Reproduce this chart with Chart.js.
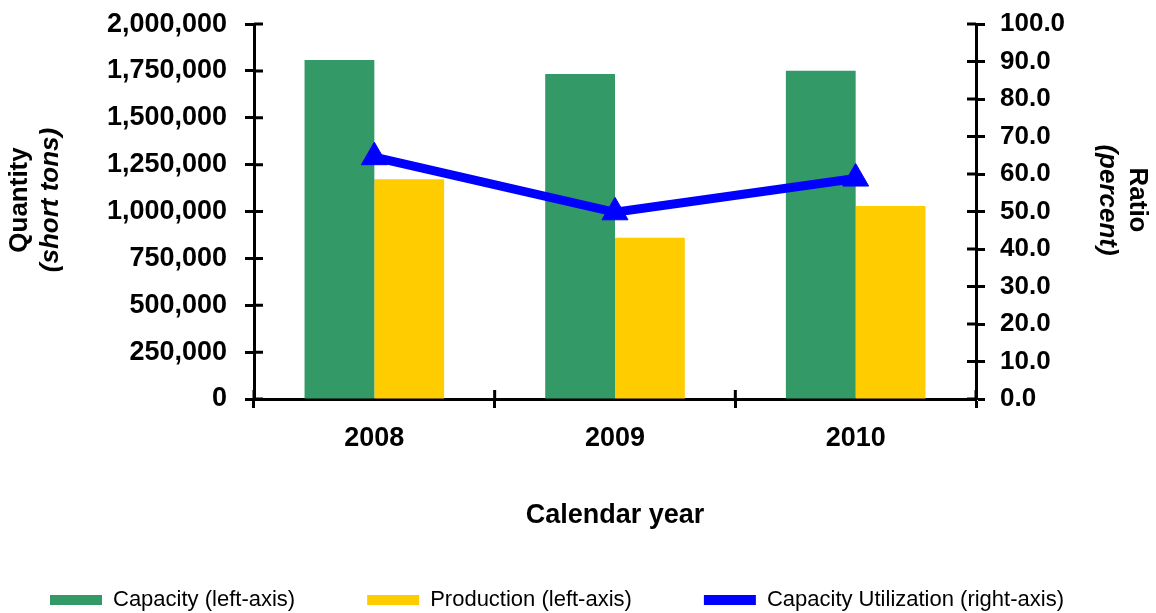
<!DOCTYPE html>
<html>
<head>
<meta charset="utf-8">
<script src="https://cdn.jsdelivr.net/npm/chart.js@4"></script>
<style>
  html, body { margin: 0; padding: 0; background: #fff; }
  #wrap { width: 1156px; height: 613px; }
</style>
</head>
<body>
<div id="wrap"><canvas id="grafico"></canvas></div>
<script>
const anos = ['2008', '2009', '2010'];
const capacidade = [1808000, 1734000, 1751000];
const producao = [1172000, 860000, 1030000];
const utilizacao = [64.5, 49.8, 58.8];
const ticksEsq = [0, 250000, 500000, 750000, 1000000, 1250000, 1500000, 1750000, 2000000];
const ticksDir = [0, 10, 20, 30, 40, 50, 60, 70, 80, 90, 100];

const fonte = 'Liberation Sans, Arial, sans-serif';

// axis titles with mixed bold / italic, plus tick marks crossing the axes
const extras = {
  id: 'extras',
  afterDraw(chart) {
    const c = chart.ctx;
    const a = chart.chartArea;
    const yl = chart.scales.y, yr = chart.scales.y1;
    c.save();
    c.strokeStyle = '#000';
    c.lineWidth = 3;
    c.beginPath();
    yl.ticks.forEach((t, i) => {
      const py = yl.getPixelForTick(i);
      c.moveTo(a.left, py); c.lineTo(a.left + 9, py);
    });
    yr.ticks.forEach((t, i) => {
      const py = yr.getPixelForTick(i);
      c.moveTo(a.right - 9, py); c.lineTo(a.right, py);
    });
    const w = (a.right - a.left) / anos.length;
    for (let i = 0; i <= anos.length; i++) {
      const px = a.left + i * w;
      c.moveTo(px, a.bottom - 9); c.lineTo(px, a.bottom);
    }
    c.stroke();

    c.fillStyle = '#000';
    c.textAlign = 'center';
    c.textBaseline = 'middle';
    c.save();
    c.translate(20, 200);
    c.rotate(-Math.PI / 2);
    c.font = 'bold 26px ' + fonte;
    c.fillText('Quantity', 0, 0);
    c.font = 'italic bold 26px ' + fonte;
    c.fillText('(short tons)', 0, 31);
    c.restore();
    c.save();
    c.translate(1137, 200);
    c.rotate(Math.PI / 2);
    c.font = 'bold 26px ' + fonte;
    c.fillText('Ratio', 0, 0);
    c.font = 'italic bold 26px ' + fonte;
    c.fillText('(percent)', 0, 30);
    c.restore();
    c.restore();
  }
};

new Chart(document.getElementById('grafico'), {
  type: 'bar',
  data: {
    labels: anos,
    datasets: [{
      label: 'Capacity (left-axis)',
      data: capacidade,
      backgroundColor: '#339966',
      yAxisID: 'y',
      order: 1
    }, {
      label: 'Production (left-axis)',
      data: producao,
      backgroundColor: '#FFCC00',
      yAxisID: 'y',
      order: 1
    }, {
      type: 'line',
      label: 'Capacity Utilization (right-axis)',
      data: utilizacao,
      borderColor: '#0000FF',
      backgroundColor: '#0000FF',
      borderWidth: 9,
      pointStyle: 'triangle',
      pointRadius: 15,
      pointBackgroundColor: '#0000FF',
      pointBorderColor: '#0000FF',
      pointBorderWidth: 1,
      yAxisID: 'y1',
      order: 0
    }]
  },
  options: {
    responsive: true,
    maintainAspectRatio: false,
    animation: false,
    layout: { padding: { top: 23, left: -22, right: 0, bottom: -8 } },
    datasets: { bar: { categoryPercentage: 0.58, barPercentage: 1.0 } },
    plugins: {
      tooltip: { enabled: false },
      legend: {
        position: 'bottom',
        align: 'start',
        labels: {
          sort: (a, b) => a.datasetIndex - b.datasetIndex,
          generateLabels: chart => Chart.defaults.plugins.legend.labels.generateLabels(chart).map(l => {
            l.lineWidth = 0;
            return l;
          }),
          boxWidth: 52,
          boxHeight: 10,
          padding: 72,
          color: '#000',
          font: { family: fonte, size: 22 }
        }
      }
    },
    scales: {
      x: {
        offset: true,
        border: { color: '#000', width: 3 },
        grid: { display: true, drawOnChartArea: false, drawTicks: true, tickLength: 9, tickWidth: 3, tickColor: '#000', offset: true },
        ticks: { color: '#000', padding: 14, autoSkip: false, font: { family: fonte, size: 27, weight: 'bold' } },
        title: { display: true, text: 'Calendar year', color: '#000', padding: { top: 30, bottom: -15 }, font: { family: fonte, size: 27, weight: 'bold' } },
        afterFit: s => { s.height = 118; }
      },
      y: {
        position: 'left',
        min: 0,
        max: 2000000,
        afterBuildTicks: s => { s.ticks = ticksEsq.map(v => ({ value: v })); },
        border: { color: '#000', width: 3 },
        grid: { drawOnChartArea: false, tickLength: 9, tickWidth: 3, tickColor: '#000' },
        ticks: { color: '#000', padding: 18, autoSkip: false, font: { family: fonte, size: 27, weight: 'bold', lineHeight: 0.45 }, callback: v => v.toLocaleString('en-US') },
        afterFit: s => { s.width = 276; }
      },
      y1: {
        position: 'right',
        min: 0,
        max: 100,
        afterBuildTicks: s => { s.ticks = ticksDir.map(v => ({ value: v })); },
        border: { color: '#000', width: 3 },
        grid: { drawOnChartArea: false, tickLength: 9, tickWidth: 3, tickColor: '#000' },
        ticks: { color: '#000', padding: 15, autoSkip: false, font: { family: fonte, size: 26, weight: 'bold', lineHeight: 0.45 }, callback: v => v.toFixed(1) },
        afterFit: s => { s.width = 180; }
      }
    }
  },
  plugins: [extras]
});
</script>
</body>
</html>
